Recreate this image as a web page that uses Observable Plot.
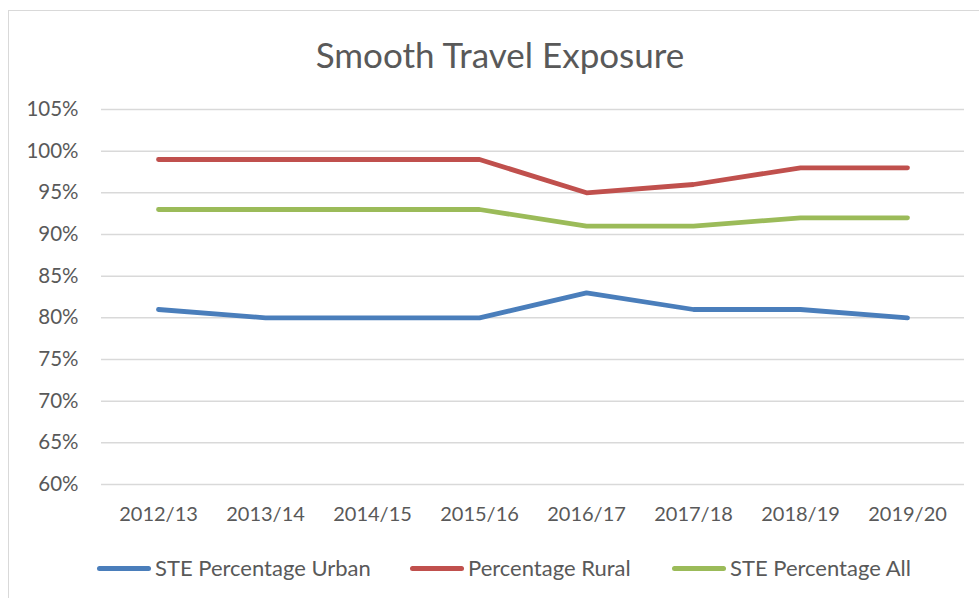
<!DOCTYPE html>
<html>
<head>
<meta charset="utf-8">
<script src="https://cdn.jsdelivr.net/npm/d3@7"></script>
<script src="https://cdn.jsdelivr.net/npm/@observablehq/plot@0.6"></script>
<style>
  html, body { margin: 0; padding: 0; background: #fff; }
  #wrap { position: relative; width: 979px; height: 598px; overflow: hidden; font-family: Lato, "Open Sans", sans-serif; color: #595959; }
  #frame { position: absolute; left: 8px; top: 10px; width: 990px; height: 600px; border: 1px solid #d9d9d9; box-sizing: border-box; }
  #title { position: absolute; left: 0; width: 1000px; top: 33px; text-align: center; font-size: 35px; line-height: 42px; }
  #chart { position: absolute; left: 0; top: 0; }
  .leg { position: absolute; top: 556px; display: flex; align-items: center; font-size: 22px; line-height: 24px; }
  .leg .sw { width: 54px; height: 5px; border-radius: 3px; margin-right: 4px; }
</style>
</head>
<body>
<div id="wrap">
  <div id="frame"></div>
  <div id="chart"></div>
  <div id="title">Smooth Travel Exposure</div>
  <div id="legend"></div>
</div>
<script>
const years = ["2012/13","2013/14","2014/15","2015/16","2016/17","2017/18","2018/19","2019/20"];
const seriesNames = ["STE Percentage Urban","Percentage Rural","STE Percentage All"];
const seriesColors = ["#4a7ebb","#c0504d","#9bbb59"];
const urban = [81,80,80,80,83,81,81,80];
const rural = [99,99,99,99,95,96,98,98];
const all = [93,93,93,93,91,91,92,92];
const yTicks = [60,65,70,75,80,85,90,95,100,105];
const legendLeft = [97, 410, 672];

const valuesBySeries = [urban, rural, all];
const data = [];
seriesNames.forEach((s, i) => years.forEach((y, j) => data.push({series: s, year: y, value: valuesBySeries[i][j]})));

const chart = Plot.plot({
  width: 979,
  height: 598,
  marginTop: 109,
  marginBottom: 114,
  marginLeft: 101,
  marginRight: 15,
  style: {fontFamily: "Lato, 'Open Sans', sans-serif", fontSize: "20px", color: "#595959", background: "transparent"},
  x: {type: "point", domain: years, padding: 0.5},
  y: {domain: [60, 105]},
  color: {domain: seriesNames, range: seriesColors},
  marks: [
    Plot.gridY(yTicks, {stroke: "#d9d9d9", strokeOpacity: 1, strokeWidth: 1.5}),
    Plot.axisY(yTicks, {tickSize: 0, tickPadding: 23, tickFormat: d => d + "%", fill: "#595959", fontSize: 20.5}),
    Plot.axisX({tickSize: 0, tickPadding: 22, fill: "#595959", fontSize: 20, label: null}),
    Plot.line(data, {x: "year", y: "value", z: "series", stroke: "series", strokeWidth: 4.8, strokeLinecap: "round", strokeLinejoin: "round"})
  ]
});
chart.querySelectorAll("[aria-label='y-axis label'], [aria-label='x-axis label']").forEach(n => n.remove());
document.getElementById("chart").appendChild(chart);

const leg = document.getElementById("legend");
seriesNames.forEach((s, i) => {
  const d = document.createElement("div");
  d.className = "leg";
  d.style.left = legendLeft[i] + "px";
  const sw = document.createElement("div");
  sw.className = "sw";
  sw.style.background = seriesColors[i];
  const t = document.createElement("span");
  t.textContent = s;
  d.appendChild(sw); d.appendChild(t);
  leg.appendChild(d);
});
</script>
</body>
</html>
